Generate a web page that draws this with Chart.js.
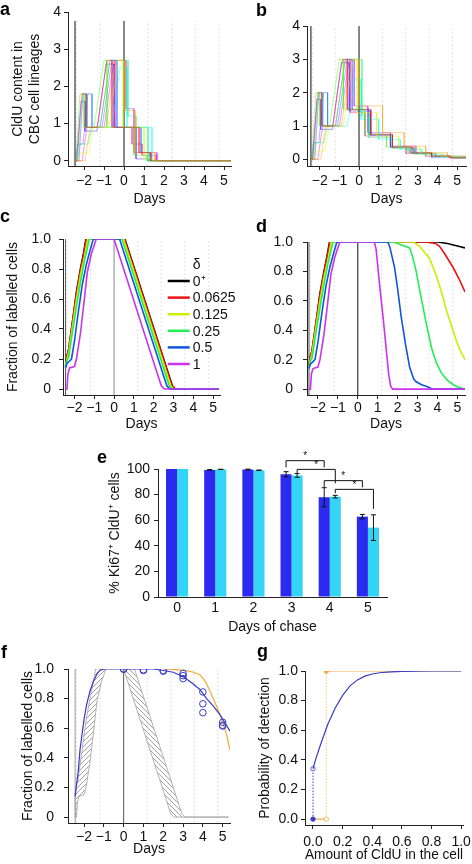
<!DOCTYPE html>
<html>
<head>
<meta charset="utf-8">
<title>CldU label dilution in CBC lineages</title>
<script src="https://cdn.jsdelivr.net/npm/chart.js@4.4.1/dist/chart.umd.min.js"></script>
<style>
  body { margin: 0; background: #fff; }
  #fig { position: relative; width: 472px; height: 864px; overflow: hidden; background: #fff;
         font-family: 'Liberation Sans', Arial, Helvetica, sans-serif; }
  #fig canvas { position: absolute; }
  .tag { position: absolute; font-weight: bold; font-size: 18px; line-height: 18px; color: #000; }
</style>
</head>
<body>
<div id="fig">
  <canvas id="chartA"></canvas>
  <canvas id="chartB"></canvas>
  <canvas id="chartC"></canvas>
  <canvas id="chartD"></canvas>
  <canvas id="chartE"></canvas>
  <canvas id="chartF"></canvas>
  <canvas id="chartG"></canvas>
  <div class="tag" style="left:0px;top:0px">a</div>
  <div class="tag" style="left:256px;top:1px">b</div>
  <div class="tag" style="left:0px;top:207px">c</div>
  <div class="tag" style="left:256px;top:217px">d</div>
  <div class="tag" style="left:97px;top:448px">e</div>
  <div class="tag" style="left:1px;top:643px">f</div>
  <div class="tag" style="left:257px;top:642px">g</div>
</div>
<script>
// ---- data ----
const dayTicks = [-2, -1, 0, 1, 2, 3, 4, 5];
const contentTicks = [0, 1, 2, 3, 4];
const fracTicks = [0, 0.2, 0.4, 0.6, 0.8, 1];
const fracLabels = ['0', '0.2', '0.4', '0.6', '0.8', '1.0'];
const probLabels = ['0.0', '0.2', '0.4', '0.6', '0.8', '1.0'];
const pctTicks = [0, 20, 40, 60, 80, 100];
const chaseDays = ['0', '1', '2', '3', '4', '5'];

const labelStart = -2.45;
const cycleDays = [-2.38, -1.19, 1.19, 2.38, 3.57, 4.76];

const lineageColors = ['#FF0000', '#FF9900', '#CCFF00', '#33FF00', '#00FF66',
                       '#00FFFF', '#0066FF', '#3300FF', '#CC00FF', '#FF0099'];

// panel a: CldU content per lineage, label lost by day ~1.6
const lineagesA = [
  [[-2.45,0],[-2.35,0],[-2.1,1.8],[-1.9,1.8],[-1.9,0.9],[-1.35,0.9],[-0.85,2.7],[-0.6,2.7],[-0.6,0.9],[0.75,0.9],[0.75,0.22],[1.35,0.22],[1.35,0],[5.35,0]],
  [[-2.45,0],[-1.95,0],[-1.7,0.9],[-0.9,0.9],[-0.4,2.7],[0.05,2.7],[0.05,1.35],[0.55,1.35],[0.55,0.22],[1.55,0.22],[1.55,0],[5.35,0]],
  [[-2.45,0],[-2.3,0],[-2.15,0.22],[-1.75,0.22],[-1.55,0.9],[-0.75,0.9],[-0.3,2.7],[-0.05,2.7],[-0.05,0.9],[1.0,0.9],[1.0,0.05],[1.5,0.05],[1.5,0],[5.35,0]],
  [[-2.45,0],[-2.4,0],[-2.2,1.8],[-2.0,1.8],[-2.0,0.9],[-1.5,0.9],[-1.0,2.7],[-0.85,2.7],[-0.85,0.9],[0.5,0.9],[0.5,0.15],[1.15,0.15],[1.15,0],[5.35,0]],
  [[-2.45,0],[-2.3,0],[-2.2,0.45],[-1.8,0.45],[-1.6,0.9],[-1.2,0.9],[-0.7,2.7],[0.2,2.7],[0.2,1.2],[0.6,1.2],[0.6,0.9],[1.2,0.9],[1.2,0],[5.35,0]],
  [[-2.45,0],[-2.3,0],[-2.05,1.8],[-1.85,1.8],[-1.85,0.9],[-0.6,0.9],[-0.2,2.5],[0.15,2.5],[0.15,0.9],[1.4,0.9],[1.4,0],[5.35,0]],
  [[-2.45,0],[-2.3,0.45],[-2.05,0.45],[-1.8,1.8],[-1.6,1.8],[-1.6,0.9],[-1.1,0.9],[-0.6,2.7],[-0.35,2.7],[-0.35,0.9],[0.85,0.9],[0.85,0.22],[1.3,0.22],[1.3,0],[5.35,0]],
  [[-2.45,0],[-2.38,0],[-2.15,1.6],[-1.95,1.6],[-1.95,0.8],[-1.35,0.8],[-0.9,2.6],[-0.5,2.6],[-0.5,0.9],[0.6,0.9],[0.6,0.05],[1.2,0.05],[1.2,0],[5.35,0]],
  [[-2.45,0],[-2.25,0],[-2.05,1.8],[-1.85,1.8],[-1.85,0.9],[-1.0,0.9],[-0.5,2.7],[0.1,2.7],[0.1,1.4],[0.5,1.4],[0.5,0.22],[1.65,0.22],[1.65,0],[5.35,0]],
  [[-2.45,0],[-2.1,0],[-1.85,0.9],[-1.2,0.9],[-0.7,2.7],[-0.45,2.7],[-0.45,0.9],[0.4,0.9],[0.4,0.45],[0.9,0.45],[0.9,0.15],[1.6,0.15],[1.6,0],[5.35,0]]
];

// panel b: CldU content per lineage, label diluted by division
const lineagesB = [
  [[-2.45,0],[-2.35,0],[-2.1,2.0],[-1.9,2.0],[-1.9,1.0],[-1.35,1.0],[-0.85,3.0],[-0.6,3.0],[-0.6,1.5],[0.6,1.5],[0.6,0.75],[1.7,0.75],[1.7,0.37],[2.7,0.37],[2.7,0.19],[3.7,0.19],[3.7,0.1],[4.6,0.1],[4.6,0.05],[5.45,0.05]],
  [[-2.45,0],[-1.95,0],[-1.7,1.0],[-0.9,1.0],[-0.4,3.0],[0.0,3.0],[0.0,1.6],[1.2,1.6],[1.2,0.8],[2.3,0.8],[2.3,0.4],[3.4,0.4],[3.4,0.2],[4.5,0.2],[4.5,0.1],[5.45,0.1]],
  [[-2.45,0],[-2.3,0],[-2.15,0.25],[-1.75,0.25],[-1.5,1.0],[-0.8,1.0],[-0.3,3.0],[-0.1,3.0],[-0.1,1.4],[0.9,1.4],[0.9,0.7],[2.0,0.7],[2.0,0.35],[3.1,0.35],[3.1,0.17],[4.2,0.17],[4.2,0.08],[5.45,0.08]],
  [[-2.45,0],[-2.4,0],[-2.2,2.0],[-2.0,2.0],[-2.0,1.0],[-1.5,1.0],[-1.0,3.0],[-0.8,3.0],[-0.8,1.5],[0.3,1.5],[0.3,0.75],[1.4,0.75],[1.4,0.37],[2.5,0.37],[2.5,0.19],[3.6,0.19],[3.6,0.1],[4.8,0.1],[4.8,0.05],[5.45,0.05]],
  [[-2.45,0],[-2.3,0],[-2.2,0.5],[-1.8,0.5],[-1.6,1.0],[-1.2,1.0],[-0.7,3.0],[0.15,3.0],[0.15,1.3],[0.5,1.3],[0.5,0.65],[1.7,0.65],[1.7,0.33],[2.8,0.33],[2.8,0.16],[3.9,0.16],[3.9,0.08],[5.0,0.08],[5.0,0.04],[5.45,0.04]],
  [[-2.45,0],[-2.3,0],[-2.05,2.0],[-1.85,2.0],[-1.85,1.0],[-0.6,1.0],[-0.2,2.4],[0.1,2.4],[0.1,1.2],[1.0,1.2],[1.0,0.6],[2.1,0.6],[2.1,0.3],[3.2,0.3],[3.2,0.15],[4.3,0.15],[4.3,0.08],[5.45,0.08]],
  [[-2.45,0],[-2.3,0.5],[-2.05,0.5],[-1.8,2.0],[-1.6,2.0],[-1.6,1.0],[-1.1,1.0],[-0.6,3.0],[-0.35,3.0],[-0.35,1.5],[0.5,1.5],[0.5,0.75],[1.6,0.75],[1.6,0.37],[2.6,0.37],[2.6,0.19],[3.7,0.19],[3.7,0.05],[5.45,0.05]],
  [[-2.45,0],[-2.38,0],[-2.15,1.8],[-1.95,1.8],[-1.95,0.9],[-1.35,0.9],[-0.9,2.9],[-0.5,2.9],[-0.5,1.45],[0.6,1.45],[0.6,0.72],[1.7,0.72],[1.7,0.36],[2.8,0.36],[2.8,0.18],[3.9,0.18],[3.9,0.09],[5.45,0.09]],
  [[-2.45,0],[-2.25,0],[-2.05,2.0],[-1.85,2.0],[-1.85,1.0],[-1.0,1.0],[-0.5,3.0],[-0.25,3.0],[-0.25,1.6],[0.45,1.6],[0.45,0.8],[1.6,0.8],[1.6,0.4],[2.9,0.4],[2.9,0.2],[3.7,0.2],[3.7,0.1],[4.7,0.1],[4.7,0.05],[5.45,0.05]],
  [[-2.45,0],[-2.1,0],[-1.85,1.0],[-1.2,1.0],[-0.7,3.0],[-0.45,3.0],[-0.45,1.4],[0.3,1.4],[0.3,0.7],[1.6,0.7],[1.6,0.35],[2.4,0.35],[2.4,0.17],[3.4,0.17],[3.4,0.09],[4.7,0.09],[4.7,0.03],[5.45,0.03]]
];

// panels c/d: fraction of labelled cells for each delta
const deltaLabels = ['0\u207A', '0.0625', '0.125', '0.25', '0.5', '1'];
const deltaColors = ['#000000', '#ee1111', '#ccee00', '#22ee55', '#1155dd', '#cc33ee'];

const fracC = [
  [[-2.45,0.15],[-2.38,0.22],[-2.3,0.26],[-2.1,0.45],[-1.9,0.65],[-1.7,0.8],[-1.55,0.9],[-1.42,1.0],[0.55,1.0],[0.62,0.97],[2.8,0.08],[2.95,0.02],[3.1,0],[5.3,0]],
  [[-2.45,0.15],[-2.38,0.22],[-2.3,0.26],[-2.1,0.45],[-1.9,0.64],[-1.7,0.79],[-1.55,0.89],[-1.4,1.0],[0.53,1.0],[0.6,0.97],[2.78,0.08],[2.93,0.02],[3.08,0],[5.3,0]],
  [[-2.45,0.15],[-2.38,0.2],[-2.3,0.24],[-2.1,0.42],[-1.9,0.6],[-1.7,0.76],[-1.5,0.88],[-1.33,1.0],[0.48,1.0],[0.55,0.97],[2.72,0.08],[2.87,0.02],[3.02,0],[5.3,0]],
  [[-2.45,0.15],[-2.38,0.19],[-2.3,0.21],[-2.1,0.38],[-1.9,0.55],[-1.7,0.71],[-1.5,0.85],[-1.25,1.0],[0.4,1.0],[0.47,0.97],[2.64,0.08],[2.79,0.02],[2.94,0],[5.3,0]],
  [[-2.45,0.14],[-2.38,0.17],[-2.3,0.18],[-2.15,0.2],[-2.0,0.32],[-1.8,0.52],[-1.6,0.7],[-1.4,0.83],[-1.2,0.93],[-1.05,1.0],[0.28,1.0],[0.35,0.97],[2.52,0.08],[2.67,0.02],[2.82,0],[5.3,0]],
  [[-2.45,0],[-2.38,0],[-2.33,0.1],[-2.25,0.14],[-2.0,0.15],[-1.9,0.2],[-1.7,0.37],[-1.5,0.6],[-1.35,0.78],[-1.15,0.9],[-0.9,1.0],[0.0,1.0],[0.07,0.97],[2.24,0.08],[2.39,0.02],[2.54,0],[5.3,0]]
];

const fracD = [
  [[-2.45,0.15],[-2.38,0.22],[-2.3,0.26],[-2.1,0.45],[-1.9,0.65],[-1.7,0.8],[-1.55,0.9],[-1.42,1.0],[4.0,1.0],[4.5,0.99],[4.8,0.98],[5.1,0.97],[5.38,0.96]],
  [[-2.45,0.15],[-2.38,0.22],[-2.3,0.26],[-2.1,0.45],[-1.9,0.64],[-1.7,0.79],[-1.55,0.89],[-1.4,1.0],[3.4,1.0],[3.9,0.99],[4.1,0.97],[4.36,0.92],[4.77,0.83],[5.08,0.75],[5.38,0.66]],
  [[-2.45,0.15],[-2.38,0.2],[-2.3,0.24],[-2.1,0.42],[-1.9,0.6],[-1.7,0.76],[-1.5,0.88],[-1.33,1.0],[2.8,1.0],[3.1,0.97],[3.35,0.93],[3.6,0.89],[3.94,0.77],[4.2,0.66],[4.44,0.54],[4.7,0.43],[4.94,0.33],[5.15,0.26],[5.38,0.2]],
  [[-2.45,0.15],[-2.38,0.19],[-2.3,0.21],[-2.1,0.38],[-1.9,0.55],[-1.7,0.71],[-1.5,0.85],[-1.25,1.0],[1.8,1.0],[2.2,0.98],[2.6,0.96],[2.75,0.9],[2.93,0.8],[3.18,0.62],[3.43,0.45],[3.7,0.28],[3.94,0.18],[4.19,0.11],[4.5,0.06],[4.8,0.03],[5.1,0.01],[5.38,0]],
  [[-2.45,0.14],[-2.38,0.17],[-2.3,0.18],[-2.15,0.2],[-2.0,0.32],[-1.8,0.52],[-1.6,0.7],[-1.4,0.83],[-1.2,0.93],[-1.05,1.0],[1.5,1.0],[1.6,0.97],[1.84,0.83],[2.0,0.68],[2.18,0.49],[2.4,0.3],[2.6,0.15],[2.8,0.07],[2.93,0.05],[3.2,0.03],[3.43,0.02],[3.77,0],[5.38,0]],
  [[-2.45,0],[-2.38,0],[-2.33,0.1],[-2.25,0.14],[-2.0,0.15],[-1.9,0.2],[-1.7,0.37],[-1.5,0.6],[-1.35,0.78],[-1.15,0.9],[-0.9,1.0],[0.83,1.0],[0.92,0.95],[1.1,0.7],[1.26,0.5],[1.42,0.28],[1.55,0.1],[1.65,0.02],[1.75,0],[5.38,0]]
];

// panel e: % Ki67+ among CldU+ cells
const ki67Dark = [100, 99.3, 99.6, 95.9, 77.9, 62.8];
const ki67DarkErr = [0, 0.2, 0.3, 2.0, 7.5, 1.7];
const ki67Light = [100, 99.7, 99.0, 95.0, 78.4, 54.2];
const ki67LightErr = [0, 0.1, 0.2, 1.5, 1.0, 10.0];
// [day, series] pairs joined by a bracket, bracket height and leg ends (in %)
const sigBrackets = [
  { from: [3, 0], to: [4, 0], top: 106.5, legs: [101.3, 101.3] },
  { from: [3, 1], to: [4, 1], top: 99.7, legs: [96.6, 88.8] },
  { from: [4, 0], to: [5, 0], top: 90.9, legs: [85.7, 85.7] },
  { from: [4, 1], to: [5, 1], top: 84.1, legs: [81.0, 68.8] }
];

// panel f: model envelope (delta 0+ .. 1), fits and observations
const envRise = [[-2.45,0.15],[-2.38,0.22],[-2.3,0.26],[-2.1,0.45],[-1.9,0.65],[-1.7,0.8],[-1.55,0.9],[-1.42,1.0],[-0.9,1.0],
                 [-1.15,0.9],[-1.35,0.78],[-1.5,0.6],[-1.7,0.37],[-1.9,0.2],[-2.0,0.15],[-2.25,0.14],[-2.33,0.1],[-2.38,0],[-2.45,0],[-2.45,0.15]];
const envFall = [[0.0,1.0],[0.07,0.97],[2.24,0.08],[2.39,0.02],[2.54,0],[5.3,0],
                 [3.1,0],[2.95,0.02],[2.8,0.08],[0.62,0.97],[0.55,1.0],[0.0,1.0]];
const fitBlue = [[-2.45,0.14],[-2.3,0.3],[-2.2,0.46],[-2.0,0.66],[-1.87,0.76],[-1.7,0.85],[-1.53,0.915],[-1.35,0.965],[-1.2,0.99],[-1.0,1.0],
                 [1.5,1.0],[2.0,0.99],[2.5,0.978],[3.0,0.95],[3.5,0.9],[3.86,0.86],[4.19,0.8],[4.53,0.75],[4.87,0.69],[5.1,0.64],[5.37,0.58]];
const fitOrange = [[2.0,1.0],[3.0,0.993],[3.5,0.98],[3.86,0.96],[4.05,0.93],[4.19,0.9],[4.36,0.85],[4.53,0.8],[4.7,0.745],
                   [4.87,0.69],[5.05,0.62],[5.2,0.555],[5.37,0.45]];
const obsDays = [0, 0, 1, 1, 2, 2, 3, 3, 3, 4, 4, 4, 5, 5, 5];
const obsFrac = [1.0, 0.998, 0.995, 0.99, 0.99, 0.985, 0.97, 0.955, 0.935, 0.845, 0.765, 0.705, 0.64, 0.62, 0.615];

// panel g: detection probability vs CldU amount
const detectBlue = [[0,0.34],[0.02,0.41],[0.05,0.5],[0.1,0.64],[0.15,0.75],[0.2,0.835],[0.25,0.9],[0.3,0.94],
                    [0.35,0.965],[0.4,0.98],[0.45,0.988],[0.5,0.993],[0.6,0.998],[0.8,1.0],[1.0,1.0]];
const detectThreshold = 0.09;

// ---- helpers ----
const BLUE = '#3a3acb';
const ORANGE = '#f2a93b';
const AXIS = '#222';

Chart.defaults.font.family = "'Liberation Sans', Arial, Helvetica, sans-serif";
Chart.defaults.font.size = 14;
Chart.defaults.color = '#111';
Chart.defaults.animation = false;
Chart.defaults.plugins.legend.display = false;
Chart.defaults.plugins.tooltip.enabled = false;
Chart.defaults.elements.point.radius = 0;
Chart.defaults.elements.line.borderWidth = 1;
Chart.defaults.elements.line.tension = 0;

const xy = pts => pts.map(([x, y]) => ({ x, y }));
const signed = v => (v < 0 ? '\u2212' + Math.abs(v) : String(v));

function mount(id, box, area) {
  const c = document.getElementById(id);
  c.width = box.w;
  c.height = box.h;
  c.style.left = box.x + 'px';
  c.style.top = box.y + 'px';
  return { canvas: c, padding: { top: area.t - box.y, right: box.x + box.w - area.r, left: 0, bottom: 0 },
           yFit: area.l - box.x, xFit: box.y + box.h - area.b };
}

function axis(o) {
  return {
    type: 'linear', min: o.min, max: o.max,
    afterBuildTicks: s => { s.ticks = o.ticks.map(v => ({ value: v })); },
    afterFit: s => { if (o.horizontal) s.height = o.fit; else s.width = o.fit; },
    grid: { drawOnChartArea: false, tickLength: o.tl ?? 4, color: AXIS },
    border: { color: AXIS },
    ticks: { color: '#111', padding: o.pad ?? 3, maxRotation: 0, autoSkip: false,
             callback: (v, i) => (o.labels ? o.labels[i] : signed(v)) },
    title: { display: !!o.title, text: o.title, color: '#111',
             padding: { top: o.tpad ?? 0, bottom: o.tpad ?? 0 } }
  };
}

function refLines(y0, y1, startColor, zeroColor) {
  const ds = cycleDays.map(d => ({ data: [{ x: d, y: y0 }, { x: d, y: y1 }],
    borderColor: '#d6d6d6', borderDash: [1.5, 2.5], borderWidth: 0.9, order: 30 }));
  ds.push({ data: [{ x: labelStart, y: y0 }, { x: labelStart, y: y1 }], borderColor: startColor, order: 29 });
  ds.push({ data: [{ x: 0, y: y0 }, { x: 0, y: y1 }], borderColor: zeroColor, order: 29 });
  return ds;
}

function hatch(canvas, dir) {
  const tile = document.createElement('canvas');
  tile.width = tile.height = 5;
  const g = tile.getContext('2d');
  g.strokeStyle = '#8a8a8a';
  g.lineWidth = 0.8;
  g.beginPath();
  if (dir > 0) {
    g.moveTo(0, 5); g.lineTo(5, 0); g.moveTo(-1, 1); g.lineTo(1, -1); g.moveTo(4, 6); g.lineTo(6, 4);
  } else {
    g.moveTo(0, 0); g.lineTo(5, 5); g.moveTo(4, -1); g.lineTo(6, 1); g.moveTo(-1, 4); g.lineTo(1, 6);
  }
  g.stroke();
  return canvas.getContext('2d').createPattern(tile, 'repeat');
}

// legend for the delta values (panel c)
const deltaLegend = {
  id: 'deltaLegend',
  afterDraw(chart, args, opts) {
    if (!opts.labels) return;
    const { ctx, scales: { x, y } } = chart;
    const x0 = x.getPixelForValue(opts.at[0]);
    const y0 = y.getPixelForValue(opts.at[1]);
    ctx.save();
    ctx.font = "14px 'Liberation Sans', Arial, sans-serif";
    ctx.fillStyle = '#111';
    ctx.textBaseline = 'middle';
    ctx.fillText(opts.title, x0 + 25, y0 - 16);
    opts.labels.forEach((t, i) => {
      const yy = y0 + i * opts.step;
      ctx.strokeStyle = opts.colors[i];
      ctx.lineWidth = 2.5;
      ctx.beginPath();
      ctx.moveTo(x0, yy);
      ctx.lineTo(x0 + 22, yy);
      ctx.stroke();
      ctx.fillText(t, x0 + 25, yy + 1);
    });
    ctx.restore();
  }
};

// error bars and significance brackets (panel e)
const barExtras = {
  id: 'barExtras',
  afterDatasetsDraw(chart, args, opts) {
    if (!opts.brackets) return;
    const { ctx, scales: { y } } = chart;
    ctx.save();
    ctx.strokeStyle = '#111';
    ctx.lineWidth = 1;
    chart.data.datasets.forEach((ds, di) => {
      const meta = chart.getDatasetMeta(di);
      ds.errors.forEach((e, i) => {
        if (!e) return;
        const bx = meta.data[i].x;
        const t = y.getPixelForValue(ds.data[i] + e);
        const b = y.getPixelForValue(ds.data[i] - e);
        ctx.beginPath();
        ctx.moveTo(bx, t); ctx.lineTo(bx, b);
        ctx.moveTo(bx - 2.5, t); ctx.lineTo(bx + 2.5, t);
        ctx.moveTo(bx - 2.5, b); ctx.lineTo(bx + 2.5, b);
        ctx.stroke();
      });
    });
    ctx.fillStyle = '#111';
    ctx.font = "10px 'Liberation Sans', Arial, sans-serif";
    ctx.textAlign = 'center';
    ctx.textBaseline = 'middle';
    opts.brackets.forEach(br => {
      const xa = chart.getDatasetMeta(br.from[1]).data[br.from[0]].x;
      const xb = chart.getDatasetMeta(br.to[1]).data[br.to[0]].x;
      const yt = y.getPixelForValue(br.top);
      ctx.beginPath();
      ctx.moveTo(xa, y.getPixelForValue(br.legs[0]));
      ctx.lineTo(xa, yt);
      ctx.lineTo(xb, yt);
      ctx.lineTo(xb, y.getPixelForValue(br.legs[1]));
      ctx.stroke();
      ctx.fillText('*', (xa + xb) / 2, yt - 4);
    });
    ctx.restore();
  }
};

Chart.register(deltaLegend, barExtras);

// ---- panel a ----
(function () {
  const m = mount('chartA', { x: 0, y: 0, w: 236, h: 208 }, { l: 68, t: 12, r: 231, b: 166 });
  const datasets = lineagesA.map((d, i) => ({ data: xy(d), borderColor: lineageColors[i] + '77', borderWidth: 0.9, order: 1 }))
    .concat(refLines(-0.14, 3.76, '#111', '#111'));
  new Chart(m.canvas, {
    type: 'line',
    data: { datasets },
    options: {
      responsive: false, layout: { padding: m.padding },
      scales: {
        x: axis({ horizontal: true, min: -2.8, max: 5.35, ticks: dayTicks, fit: m.xFit, title: 'Days', pad: 3 }),
        y: axis({ min: -0.14, max: 4, ticks: contentTicks, fit: m.yFit, pad: 3,
                  title: ['CldU content in', 'CBC cell lineages'], tpad: 9.5 })
      }
    }
  });
})();

// ---- panel b ----
(function () {
  const m = mount('chartB', { x: 236, y: 0, w: 236, h: 208 }, { l: 307, t: 26, r: 466, b: 166 });
  const datasets = lineagesB.map((d, i) => ({ data: xy(d), borderColor: lineageColors[i] + '77', borderWidth: 0.9, order: 1 }))
    .concat(refLines(-0.2, 4.2, '#111', '#111'));
  new Chart(m.canvas, {
    type: 'line',
    data: { datasets },
    options: {
      responsive: false, layout: { padding: m.padding },
      scales: {
        x: axis({ horizontal: true, min: -2.65, max: 5.45, ticks: dayTicks, fit: m.xFit, title: 'Days', pad: 3 }),
        y: axis({ min: -0.2, max: 4, ticks: contentTicks, fit: m.yFit, pad: 3 })
      }
    }
  });
})();

// ---- panel c ----
(function () {
  const m = mount('chartC', { x: 0, y: 205, w: 236, h: 228 }, { l: 63, t: 239, r: 220, b: 395 });
  const datasets = fracC.map((d, i) => ({ data: xy(d), borderColor: deltaColors[i], borderWidth: 1.6, order: 6 - i }))
    .concat(refLines(-0.04, 1.04, '#555', '#888'));
  new Chart(m.canvas, {
    type: 'line',
    data: { datasets },
    options: {
      responsive: false, layout: { padding: m.padding },
      plugins: { deltaLegend: { title: '\u03B4', labels: deltaLabels, colors: deltaColors, at: [2.71, 0.72], step: 16.6 } },
      scales: {
        x: axis({ horizontal: true, min: -2.58, max: 5.35, ticks: dayTicks, fit: m.xFit, title: 'Days', pad: 1 }),
        y: axis({ min: -0.04, max: 1, ticks: fracTicks, labels: fracLabels, fit: m.yFit, pad: 8,
                  title: 'Fraction of labelled cells', tpad: 4.6 })
      }
    }
  });
})();

// ---- panel d ----
(function () {
  const m = mount('chartD', { x: 236, y: 205, w: 236, h: 228 }, { l: 307, t: 242, r: 465, b: 395 });
  const datasets = fracD.map((d, i) => ({ data: xy(d), borderColor: deltaColors[i], borderWidth: 1.6, order: 6 - i }))
    .concat(refLines(-0.04, 1.06, '#555', '#111'));
  new Chart(m.canvas, {
    type: 'line',
    data: { datasets },
    options: {
      responsive: false, layout: { padding: m.padding },
      scales: {
        x: axis({ horizontal: true, min: -2.55, max: 5.38, ticks: dayTicks, fit: m.xFit, title: 'Days', pad: 1 }),
        y: axis({ min: -0.04, max: 1, ticks: fracTicks, labels: fracLabels, fit: m.yFit, pad: 10 })
      }
    }
  });
})();

// ---- panel e ----
(function () {
  const m = mount('chartE', { x: 100, y: 440, w: 300, h: 196 }, { l: 158, t: 469, r: 387, b: 597 });
  new Chart(m.canvas, {
    type: 'bar',
    data: {
      labels: chaseDays,
      datasets: [
        { data: ki67Dark, errors: ki67DarkErr, backgroundColor: '#2a2af0', categoryPercentage: 0.58, barPercentage: 1 },
        { data: ki67Light, errors: ki67LightErr, backgroundColor: '#34d4f7', categoryPercentage: 0.58, barPercentage: 1 }
      ]
    },
    options: {
      responsive: false, layout: { padding: m.padding },
      plugins: { barExtras: { brackets: sigBrackets } },
      scales: {
        x: {
          type: 'category',
          afterFit: s => { s.height = m.xFit; },
          grid: { display: true, drawOnChartArea: false, drawTicks: false, color: AXIS },
          border: { color: AXIS },
          ticks: { color: '#111', padding: 3 },
          title: { display: true, text: 'Days of chase', color: '#111', padding: { top: 0, bottom: 0 } }
        },
        y: axis({ min: 0, max: 100, ticks: pctTicks, fit: m.yFit, pad: 4,
                  title: '% Ki67\u207A CldU\u207A cells', tpad: 6.6 })
      }
    }
  });
})();

// ---- panel f ----
(function () {
  const m = mount('chartF', { x: 0, y: 640, w: 236, h: 218 }, { l: 68, t: 669, r: 230, b: 823 });
  const datasets = [
    { data: xy(obsDays.map((d, i) => [d, obsFrac[i]])), showLine: false, pointRadius: 3.3,
      pointBorderColor: BLUE, pointBackgroundColor: 'rgba(0,0,0,0)', pointBorderWidth: 1, order: 0 },
    { data: xy(fitBlue), borderColor: BLUE, borderWidth: 1.2, order: 1 },
    { data: xy(fitOrange), borderColor: ORANGE, borderWidth: 1.2, order: 2 },
    { data: xy(envRise), borderColor: '#a0a0a0', borderWidth: 0.8, fill: 'shape',
      backgroundColor: hatch(m.canvas, 1), order: 3 },
    { data: xy(envFall), borderColor: '#a0a0a0', borderWidth: 0.8, fill: 'shape',
      backgroundColor: hatch(m.canvas, -1), order: 3 }
  ].concat(refLines(-0.04, 1.04, '#999', '#555'));
  new Chart(m.canvas, {
    type: 'line',
    data: { datasets },
    options: {
      responsive: false, layout: { padding: m.padding },
      scales: {
        x: axis({ horizontal: true, min: -2.81, max: 5.37, ticks: dayTicks, fit: m.xFit, title: 'Days', pad: 2 }),
        y: axis({ min: -0.04, max: 1, ticks: fracTicks, labels: fracLabels, fit: m.yFit, pad: 10,
                  title: 'Fraction of labelled cells', tpad: 19.6 })
      }
    }
  });
})();

// ---- panel g ----
(function () {
  const m = mount('chartG', { x: 236, y: 640, w: 240, h: 224 }, { l: 305, t: 671, r: 464, b: 825 });
  const t = detectThreshold;
  const datasets = [
    { data: xy(detectBlue), borderColor: BLUE, borderWidth: 1.2, order: 0 },
    { data: [{ x: 0, y: 0 }, { x: 0, y: detectBlue[0][1] }], borderColor: BLUE, borderDash: [1.5, 1.5], order: 2 },
    { data: [{ x: 0, y: 0 }], pointRadius: 2.2, pointBackgroundColor: BLUE, pointBorderColor: BLUE, order: 0 },
    { data: [{ x: 0, y: detectBlue[0][1] }], pointRadius: 2.2, pointBackgroundColor: '#fff', pointBorderColor: BLUE,
      pointBorderWidth: 0.8, order: 0 },
    { data: [{ x: t, y: 1 }, { x: 1, y: 1 }], borderColor: ORANGE, borderWidth: 1.2, order: 1 },
    { data: [{ x: 0, y: 0 }, { x: t, y: 0 }], borderColor: ORANGE, borderWidth: 1.2, order: 1 },
    { data: [{ x: t, y: 0 }, { x: t, y: 1 }], borderColor: ORANGE + 'aa', borderDash: [1.5, 1.5], order: 2 },
    { data: [{ x: t, y: 1 }], pointRadius: 2.2, pointBackgroundColor: ORANGE, pointBorderColor: ORANGE, order: 0 },
    { data: [{ x: t, y: 0 }], pointRadius: 2.2, pointBackgroundColor: '#fff', pointBorderColor: ORANGE,
      pointBorderWidth: 0.8, order: 0 }
  ];
  new Chart(m.canvas, {
    type: 'line',
    data: { datasets },
    options: {
      responsive: false, layout: { padding: m.padding },
      scales: {
        x: axis({ horizontal: true, min: -0.054, max: 1.013, ticks: fracTicks, labels: probLabels, fit: m.xFit,
                  title: 'Amount of CldU in the cell', pad: 5 }),
        y: axis({ min: -0.04, max: 1, ticks: fracTicks, labels: probLabels, fit: m.yFit, pad: 3,
                  title: 'Probability of detection', tpad: 20.6 })
      }
    }
  });
})();
</script>
</body>
</html>
